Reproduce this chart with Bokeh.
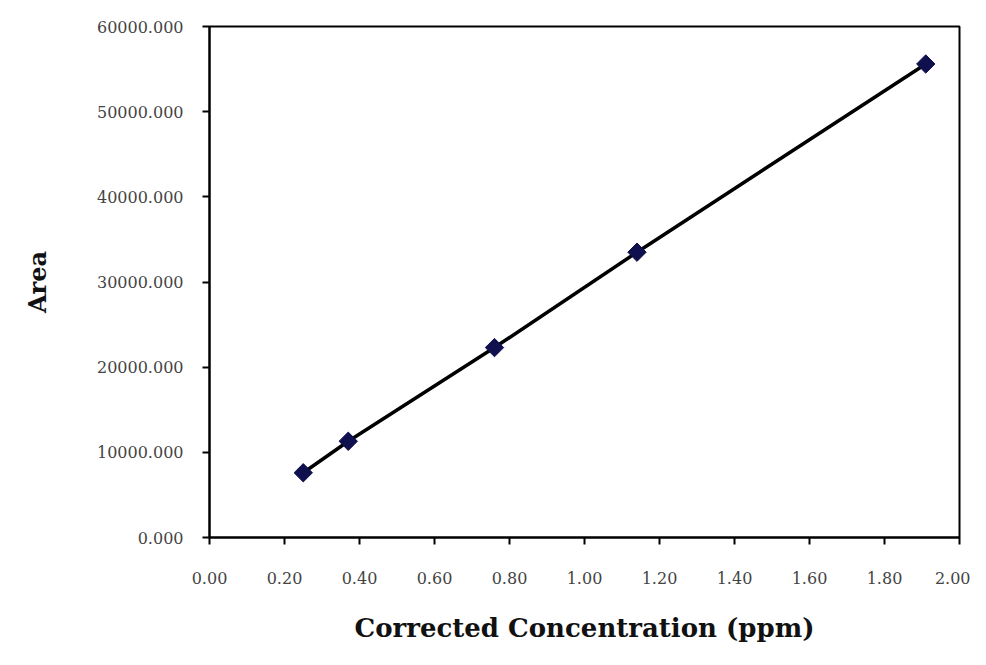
import math
from bokeh.plotting import figure
from bokeh.models import Range1d, FixedTicker, PrintfTickFormatter
from bokeh.embed import file_html
from bokeh.resources import INLINE

# data
conc = [0.25, 0.37, 0.76, 1.14, 1.91]
area = [7600, 11300, 22300, 33500, 55600]
x_ticks = [0.0, 0.2, 0.4, 0.6, 0.8, 1.0, 1.2, 1.4, 1.6, 1.8, 2.0]
y_ticks = [0, 10000, 20000, 30000, 40000, 50000, 60000]

p = figure(width=970, height=645, output_backend="svg", toolbar_location=None,
           x_range=Range1d(0, 2), y_range=Range1d(0, 60000),
           min_border_left=209, min_border_right=11, min_border_top=26,
           min_border_bottom=107)
p.background_fill_color = "white"
p.border_fill_color = "white"
p.outline_line_color = "black"
p.outline_line_width = 2
p.xgrid.visible = False
p.ygrid.visible = False

p.line(conc, area, line_color="black", line_width=3.5)
p.scatter(conc, area, marker="square", angle=math.pi / 4, size=13,
          fill_color="#10104f", line_color="#10104f")

for ax in (p.xaxis[0], p.yaxis[0]):
    ax.axis_line_color = "black"
    ax.axis_line_width = 2
    ax.major_tick_line_color = "black"
    ax.major_tick_line_width = 2
    ax.major_tick_out = 7
    ax.major_tick_in = 0
    ax.minor_tick_line_color = None
    ax.major_label_text_font = "DejaVu Serif"
    ax.major_label_text_font_size = "16px"
    ax.major_label_text_color = "#444444"
    ax.axis_label_text_font = "DejaVu Serif"
    ax.axis_label_text_font_style = "bold"
    ax.axis_label_text_color = "#111111"

p.xaxis[0].ticker = FixedTicker(ticks=x_ticks)
p.xaxis[0].formatter = PrintfTickFormatter(format="%.2f")
p.xaxis[0].major_label_standoff = 27
p.xaxis[0].axis_label = "Corrected Concentration (ppm)"
p.xaxis[0].axis_label_text_font_size = "26px"
p.xaxis[0].axis_label_standoff = 26

p.yaxis[0].ticker = FixedTicker(ticks=y_ticks)
p.yaxis[0].formatter = PrintfTickFormatter(format="%.3f")
p.yaxis[0].major_label_standoff = 19
p.yaxis[0].axis_label = "Area"
p.yaxis[0].axis_label_text_font_size = "24px"
p.yaxis[0].axis_label_standoff = 42

open("out.html", "w").write(file_html(p, INLINE))
